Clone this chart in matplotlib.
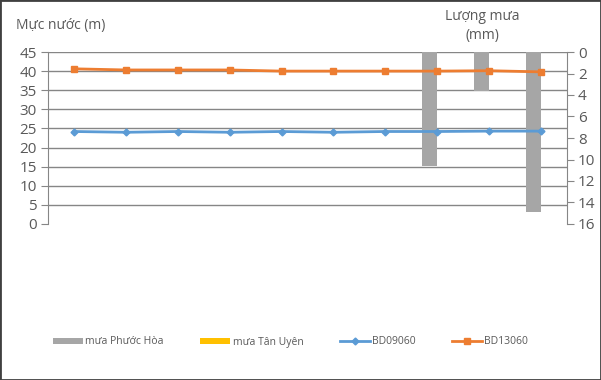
import matplotlib
matplotlib.use("Agg")
import matplotlib.pyplot as plt
from matplotlib.patches import Rectangle
import numpy as np

plt.rcParams['font.family'] = ['Open Sans', 'DejaVu Sans']

categories = list(range(1, 11))
rain_phuoc_hoa = [0, 0, 0, 0, 0, 0, 0, 10.6, 3.6, 14.9]
rain_tan_uyen = [0, 0, 0, 0, 0, 0, 0, 0, 0, 0]
bd09060 = [24.2, 24.0, 24.2, 24.0, 24.2, 24.0, 24.2, 24.2, 24.3, 24.3]
bd13060 = [40.6, 40.3, 40.3, 40.3, 40.0, 40.0, 40.0, 40.0, 40.1, 39.8]
left_ticks = list(range(0, 50, 5))
right_ticks = list(range(0, 18, 2))

txt = '#595959'
fig = plt.figure(figsize=(6.01, 3.80), dpi=100)
pos = [48/601, 1 - 224/380, (567-48)/601, (224-52)/380]
ax = fig.add_axes(pos)
ax2 = ax.twinx()

x = np.arange(len(categories))
w = 0.29
b1 = ax2.bar(x - w/2, rain_phuoc_hoa, width=w, color='#A6A6A6', zorder=2, label='mưa Phước Hòa')
b2 = ax2.bar(x + w/2, rain_tan_uyen, width=w, color='#FFC000', zorder=2, label='mưa Tân Uyên')
l1, = ax2.plot(x, bd09060, color='#5B9BD5', lw=2, marker='D', ms=3.5, transform=ax.transData, zorder=3, label='BD09060')
l2, = ax2.plot(x, bd13060, color='#ED7D31', lw=2, marker='s', ms=5, transform=ax.transData, zorder=3, label='BD13060')

ax.set_xlim(-0.5, len(categories) - 0.5)
ax2.set_xlim(-0.5, len(categories) - 0.5)
ax.set_ylim(0, 45)
ax2.set_ylim(16, 0)
ax.set_yticks(left_ticks)
ax2.set_yticks(right_ticks)
ax.set_xticks([])

ax.yaxis.grid(True, color='#868686', lw=1)
ax.get_ygridlines()[0].set_visible(False)
ax.set_axisbelow(True)

for a in (ax, ax2):
    for s in ('top', 'bottom'):
        a.spines[s].set_visible(False)
ax.spines['right'].set_visible(False)
ax2.spines['left'].set_visible(False)
ax.spines['left'].set_color('#868686')
ax2.spines['right'].set_color('#868686')
ax.tick_params(axis='y', labelsize=11, colors=txt, length=5, color='#868686', pad=3)
ax2.tick_params(axis='y', labelsize=11, colors=txt, length=5, color='#868686', pad=3)

fig.text(16/601, 1 - 26/380, 'Mực nước (m)', fontsize=10, color=txt, va='center', ha='left')
fig.text(482/601, 1 - 26/380, 'Lượng mưa\n(mm)', fontsize=10, color=txt, va='center', ha='center', linespacing=1.3)

handles = [b1, b2, l1, l2]
labels = [h.get_label() for h in handles]
leg = fig.legend(handles, labels, loc='center left', bbox_to_anchor=(53/601, 1 - 342/380), ncol=4, frameon=False,
                 fontsize=7.5, handlelength=2.9, handleheight=0.5, columnspacing=3.5, handletextpad=0.2,
                 labelcolor=txt, borderpad=0, borderaxespad=0)

fig.patches.append(Rectangle((0, 0), 1, 1, transform=fig.transFigure, fill=False,
                             edgecolor='#404040', lw=2))

fig.savefig('out.png', dpi=100)
